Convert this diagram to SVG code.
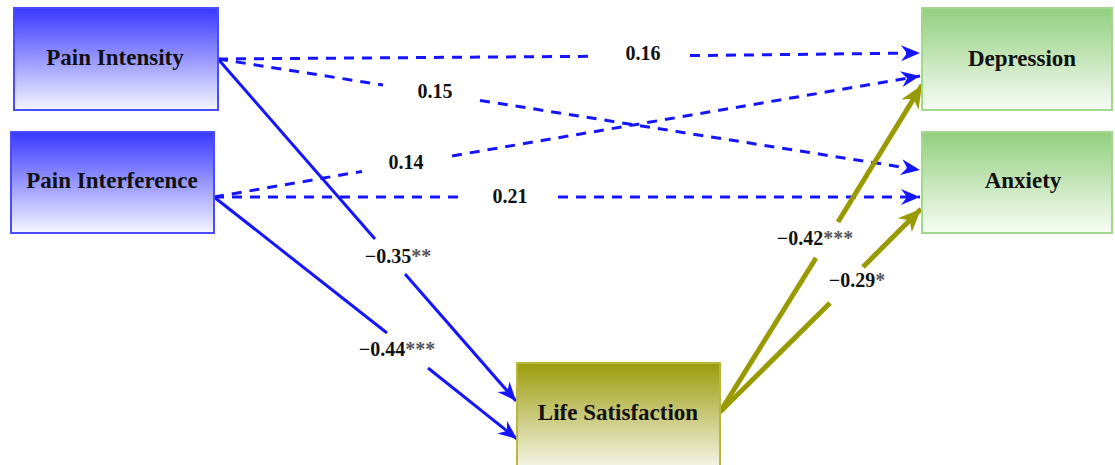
<svg xmlns="http://www.w3.org/2000/svg" width="1115" height="465" viewBox="0 0 1115 465">
<style>
.box{stroke-width:2}
.ntext{font-family:"Liberation Serif","Times New Roman",serif;font-weight:bold;font-size:23px;fill:#111;text-anchor:middle}
.lbl{font-family:"Liberation Serif","Times New Roman",serif;font-weight:bold;font-size:20px;fill:#111;text-anchor:middle}
.ast{fill:#555}
.dash{fill:none;stroke:#1414ff;stroke-width:3;stroke-dasharray:10 8}
.solid{fill:none;stroke:#1414ff;stroke-width:3}
.olive{fill:none;stroke:#999900;stroke-width:5}
</style>
<defs>
<linearGradient id="gBlue" x1="0" y1="0" x2="0" y2="1">
<stop offset="0" stop-color="#3838ff"/>
<stop offset="1" stop-color="#f6f6ff"/>
</linearGradient>
<linearGradient id="gGreen" x1="0" y1="0" x2="0" y2="1">
<stop offset="0" stop-color="#92cf7e"/>
<stop offset="1" stop-color="#f7fcf4"/>
</linearGradient>
<linearGradient id="gOlive" x1="0" y1="0" x2="0" y2="1">
<stop offset="0" stop-color="#9c9c0c"/>
<stop offset="1" stop-color="#f4f4e6"/>
</linearGradient>
<marker id="aBlue" markerUnits="userSpaceOnUse" viewBox="-20 -10 22 20" refX="0" refY="0" markerWidth="22" markerHeight="20" orient="auto">
<path d="M0,0 L-19,-8 L-13,0 L-19,8 Z" fill="#1414ff"/>
</marker>
<marker id="aOlive" markerUnits="userSpaceOnUse" viewBox="-24 -12 26 24" refX="0" refY="0" markerWidth="26" markerHeight="24" orient="auto">
<path d="M0,0 L-23,-10 L-16,0 L-23,10 Z" fill="#999900"/>
</marker>
</defs>

<g id="connectors">
<path class="dash" d="M218,59 L592,56.3"/>
<path class="dash" d="M690,55.6 L920,53" marker-end="url(#aBlue)"/>
<path class="dash" d="M218,59 L383,85"/>
<path class="dash" d="M480,100.4 L920,170" marker-end="url(#aBlue)"/>
<path class="dash" d="M214,197 L362,171.4"/>
<path class="dash" d="M452,155.9 L920,76" marker-end="url(#aBlue)"/>
<path class="dash" d="M214,197 L465,197"/>
<path class="dash" d="M558,197 L920,197" marker-end="url(#aBlue)"/>
<path class="solid" d="M218,59 L375,239"/>
<path class="solid" d="M405,274 L516,401" marker-end="url(#aBlue)"/>
<path class="solid" d="M214,197 L387,333"/>
<path class="solid" d="M428,368 L517,439" marker-end="url(#aBlue)"/>
<path class="olive" d="M720,412 L816,258"/>
<path class="olive" d="M838,222 L922,85" marker-end="url(#aOlive)"/>
<path class="olive" d="M720,412 L830,303"/>
<path class="olive" d="M863,267 L921,209" marker-end="url(#aOlive)"/>
</g>

<g id="labels">
<text class="lbl" x="643" y="60">0.16</text>
<text class="lbl" x="435" y="98">0.15</text>
<text class="lbl" x="406" y="169">0.14</text>
<text class="lbl" x="510" y="203">0.21</text>
<text class="lbl" x="398" y="263">−0.35<tspan class="ast">**</tspan></text>
<text class="lbl" x="397" y="356">−0.44<tspan class="ast">***</tspan></text>
<text class="lbl" x="815" y="245">−0.42<tspan class="ast">***</tspan></text>
<text class="lbl" x="857" y="287">−0.29<tspan class="ast">*</tspan></text>
</g>

<g id="pain-intensity">
<rect class="box" x="14" y="8" width="204" height="102" fill="url(#gBlue)" stroke="#4a4aff"/>
<text class="ntext" x="115" y="65">Pain Intensity</text>
</g>
<g id="pain-interference">
<rect class="box" x="11" y="132" width="203" height="101" fill="url(#gBlue)" stroke="#4a4aff"/>
<text class="ntext" x="112" y="188">Pain Interference</text>
</g>
<g id="depression">
<rect class="box" x="922" y="8" width="190" height="102" fill="url(#gGreen)" stroke="#a0d890"/>
<text class="ntext" x="1022" y="66">Depression</text>
</g>
<g id="anxiety">
<rect class="box" x="922" y="132" width="190" height="101" fill="url(#gGreen)" stroke="#a0d890"/>
<text class="ntext" x="1023" y="188">Anxiety</text>
</g>
<g id="life-satisfaction">
<rect class="box" x="517" y="363" width="203" height="104" fill="url(#gOlive)" stroke="#b8b840"/>
<text class="ntext" x="618" y="420">Life Satisfaction</text>
</g>
</svg>
